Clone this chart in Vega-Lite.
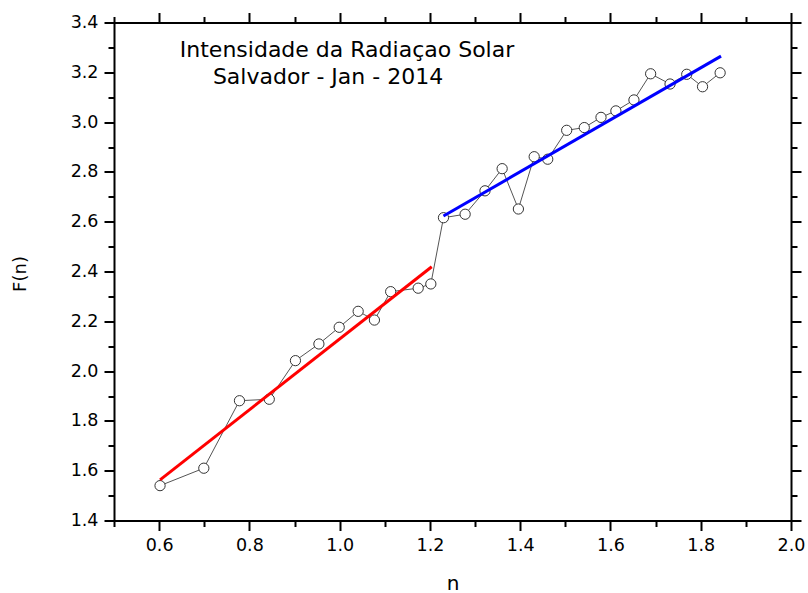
{
  "$schema": "https://vega.github.io/schema/vega-lite/v6.json",
  "width": 677,
  "height": 498,
  "autosize": {"type": "none"},
  "padding": {"left": 114, "top": 22.5, "right": 17, "bottom": 72.5},
  "background": "white",
  "config": {"view": {"stroke": null}},
  "datasets": {
    "pts": [
      {"n": 0.602, "F": 1.540},
      {"n": 0.699, "F": 1.610},
      {"n": 0.778, "F": 1.881},
      {"n": 0.844, "F": 1.887},
      {"n": 0.902, "F": 2.042},
      {"n": 0.954, "F": 2.109},
      {"n": 0.999, "F": 2.176},
      {"n": 1.041, "F": 2.240},
      {"n": 1.077, "F": 2.205},
      {"n": 1.113, "F": 2.319},
      {"n": 1.174, "F": 2.333},
      {"n": 1.202, "F": 2.350},
      {"n": 1.230, "F": 2.616},
      {"n": 1.278, "F": 2.630},
      {"n": 1.322, "F": 2.724},
      {"n": 1.360, "F": 2.813},
      {"n": 1.396, "F": 2.651},
      {"n": 1.431, "F": 2.861},
      {"n": 1.461, "F": 2.851},
      {"n": 1.503, "F": 2.967},
      {"n": 1.542, "F": 2.978},
      {"n": 1.579, "F": 3.019},
      {"n": 1.612, "F": 3.045},
      {"n": 1.652, "F": 3.089},
      {"n": 1.689, "F": 3.194},
      {"n": 1.732, "F": 3.153},
      {"n": 1.769, "F": 3.192},
      {"n": 1.804, "F": 3.142},
      {"n": 1.843, "F": 3.198}
    ],
    "fits": [
      {"seg": "a", "n": 0.602, "F": 1.563},
      {"seg": "a", "n": 1.204, "F": 2.419},
      {"seg": "b", "n": 1.230, "F": 2.623},
      {"seg": "b", "n": 1.845, "F": 3.265}
    ],
    "titles": [
      {"label": "Intensidade da Radiaçao Solar"},
      {"label": "Salvador - Jan - 2014"}
    ]
  },
  "layer": [
    {
      "data": {"name": "pts"},
      "mark": {"type": "line", "color": "#555555", "strokeWidth": 1},
      "encoding": {
        "x": {
          "field": "n", "type": "quantitative",
          "scale": {"domain": [0.5, 2.0], "nice": false, "zero": false},
          "axis": {
            "orient": "bottom",
            "values": [0.5,0.6,0.7,0.8,0.9,1.0,1.1,1.2,1.3,1.4,1.5,1.6,1.7,1.8,1.9,2.0],
            "labelExpr": "round(datum.value*10)%2==0 ? format(datum.value,'.1f') : ''",
            "tickSize": {"condition": {"test": "round(datum.value*10)%2==0", "value": 10}, "value": 6},
            "tickWidth": 2, "tickColor": "black",
            "domainWidth": 2, "domainColor": "black", "domainCap": "square",
            "grid": false,
            "labelFont": "DejaVu Sans", "labelFontSize": 17.5, "labelColor": "black",
            "labelPadding": 6, "labelOverlap": false, "labelFlush": false, "labelBound": false,
            "title": "n", "titleFont": "DejaVu Sans", "titleFontSize": 20,
            "titleFontWeight": "normal", "titleColor": "black",
            "titleY": 68.5, "titleBaseline": "alphabetic"
          }
        },
        "y": {
          "field": "F", "type": "quantitative",
          "scale": {"domain": [1.4, 3.4], "nice": false, "zero": false},
          "axis": {
            "orient": "left",
            "values": [1.4,1.5,1.6,1.7,1.8,1.9,2.0,2.1,2.2,2.3,2.4,2.5,2.6,2.7,2.8,2.9,3.0,3.1,3.2,3.3,3.4],
            "labelExpr": "round(datum.value*10)%2==0 ? format(datum.value,'.1f') : ''",
            "tickSize": {"condition": {"test": "round(datum.value*10)%2==0", "value": 10}, "value": 6},
            "tickWidth": 2, "tickColor": "black",
            "domainWidth": 2, "domainColor": "black", "domainCap": "square",
            "grid": false,
            "labelFont": "DejaVu Sans", "labelFontSize": 17.5, "labelColor": "black",
            "labelPadding": 6, "labelOverlap": false, "labelFlush": false, "labelBound": false,
            "title": "F(n)", "titleFont": "DejaVu Sans", "titleFontSize": 18,
            "titleFontWeight": "normal", "titleColor": "black",
            "titleX": -89, "titleY": 251, "titleBaseline": "alphabetic", "titleAngle": 270
          }
        }
      }
    },
    {
      "data": {"name": "pts"},
      "mark": {"type": "point", "shape": "circle", "filled": false, "fill": "white", "fillOpacity": 1, "stroke": "#333333", "strokeWidth": 1, "size": 105, "opacity": 1},
      "encoding": {
        "x": {
          "field": "n", "type": "quantitative",
          "axis": {
            "orient": "top",
            "values": [0.5,0.6,0.7,0.8,0.9,1.0,1.1,1.2,1.3,1.4,1.5,1.6,1.7,1.8,1.9,2.0],
            "labels": false, "title": null, "grid": false,
            "tickSize": {"condition": {"test": "round(datum.value*10)%2==0", "value": 10}, "value": 6},
            "tickWidth": 2, "tickColor": "black",
            "domainWidth": 2, "domainColor": "black", "domainCap": "square"
          }
        },
        "y": {
          "field": "F", "type": "quantitative",
          "axis": {
            "orient": "right",
            "values": [1.4,1.5,1.6,1.7,1.8,1.9,2.0,2.1,2.2,2.3,2.4,2.5,2.6,2.7,2.8,2.9,3.0,3.1,3.2,3.3,3.4],
            "labels": false, "title": null, "grid": false,
            "tickSize": {"condition": {"test": "round(datum.value*10)%2==0", "value": 10}, "value": 6},
            "tickWidth": 2, "tickColor": "black",
            "domainWidth": 2, "domainColor": "black", "domainCap": "square"
          }
        }
      }
    },
    {
      "data": {"name": "fits"},
      "mark": {"type": "line", "strokeWidth": 3},
      "encoding": {
        "x": {"field": "n", "type": "quantitative", "axis": null},
        "y": {"field": "F", "type": "quantitative", "axis": null},
        "color": {"field": "seg", "type": "nominal", "scale": {"domain": ["a", "b"], "range": ["#ff0000", "#0000ff"]}, "legend": null}
      }
    },
    {
      "data": {"name": "titles"},
      "transform": [{"filter": "datum.label == 'Intensidade da Radiaçao Solar'"}],
      "mark": {"type": "text", "font": "DejaVu Sans", "fontSize": 22, "align": "center", "baseline": "alphabetic", "color": "black"},
      "encoding": {
        "text": {"field": "label"},
        "x": {"datum": 1.0163, "type": "quantitative", "axis": null},
        "y": {"datum": 3.2614, "type": "quantitative", "axis": null}
      }
    },
    {
      "data": {"name": "titles"},
      "transform": [{"filter": "datum.label == 'Salvador - Jan - 2014'"}],
      "mark": {"type": "text", "font": "DejaVu Sans", "fontSize": 22, "align": "center", "baseline": "alphabetic", "color": "black"},
      "encoding": {
        "text": {"field": "label"},
        "x": {"datum": 0.9742, "type": "quantitative", "axis": null},
        "y": {"datum": 3.155, "type": "quantitative", "axis": null}
      }
    }
  ],
  "resolve": {"axis": {"x": "independent", "y": "independent"}}
}
